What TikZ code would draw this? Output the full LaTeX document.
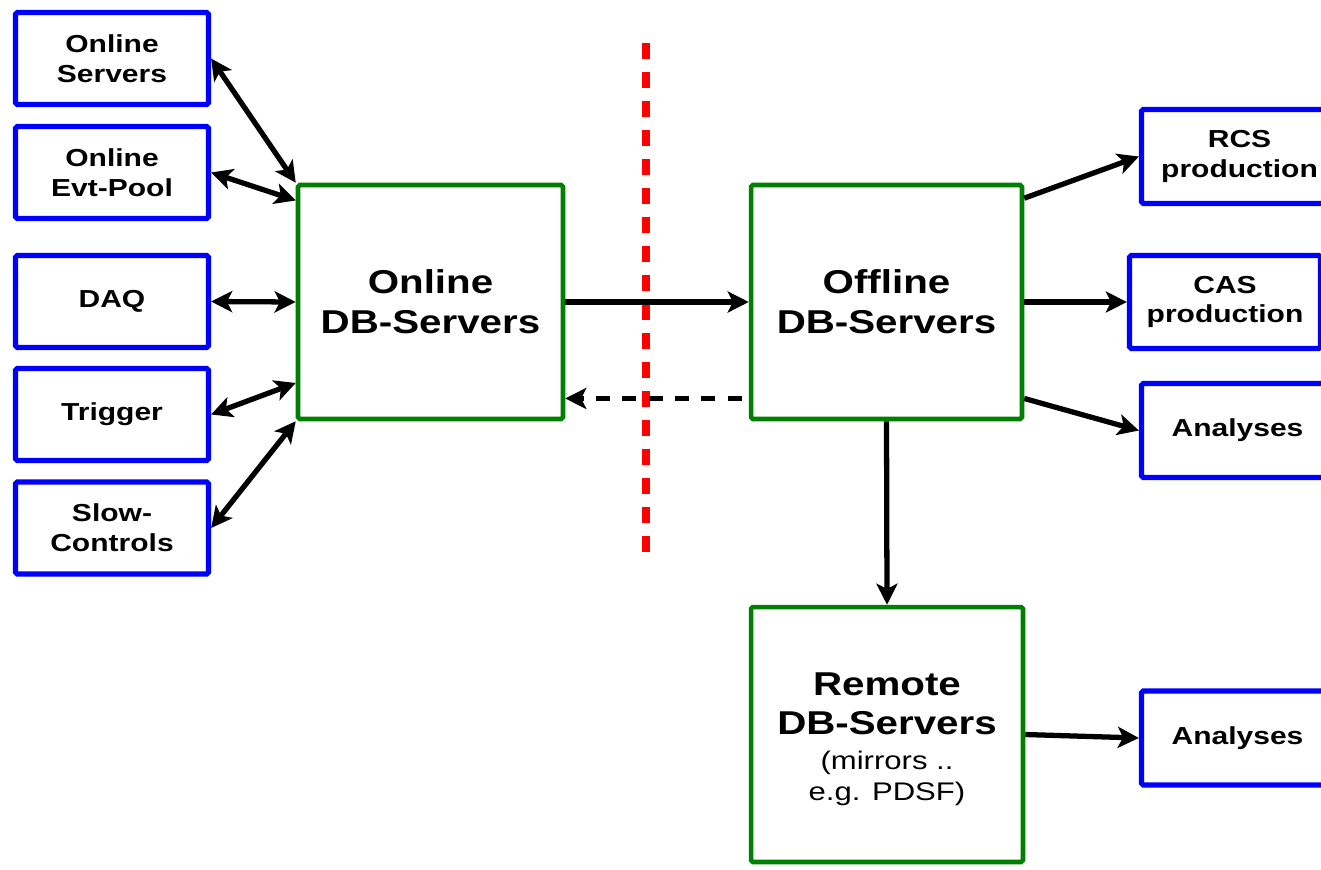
\documentclass[tikz,border=0pt]{standalone}
\usepackage{fontspec}
\setmainfont{Liberation Sans}[FakeStretch=1.22]
\usepackage{tikz}
\usetikzlibrary{positioning}
\usetikzlibrary{arrows.meta}
\usepackage{xcolor}
\definecolor{dbgreen}{RGB}{0,128,0}

\begin{document}
\begin{tikzpicture}[x=0.02cm, y=-0.02cm, >={Stealth[length=12pt,width=12pt,inset=3pt]},
    client/.style={draw=blue, line width=3pt, rounded corners=1pt, inner sep=0pt,
        minimum width=3.86cm, minimum height=1.84cm, align=center,
        font=\fontsize{14}{17}\selectfont\bfseries},
    dbserver/.style={draw=dbgreen, line width=2.6pt, rounded corners=1pt, inner sep=0pt,
        align=center, font=\fontsize{18.8}{22.7}\selectfont\bfseries},
    dbtext/.style={inner sep=0pt, align=center, font=\fontsize{18.8}{22.7}\selectfont\bfseries},
    link/.style={line width=3pt}]
    \useasboundingbox (0,0) rectangle (1321,869);
    % online side
    \node[client] (srv) at (112,58.5) {Online\\Servers};
    \node[client] (evt) at (112,172.5) {Online\\Evt-Pool};
    \node[client] (daq) at (112,301.5) {DAQ};
    \node[client] (trg) at (112,414.5) {Trigger};
    \node[client] (slow) at (112,528) {Slow-\\Controls};
    \node[dbserver, minimum width=5.3cm, minimum height=4.68cm] (ondb) at (430.5,302) {Online\\DB-Servers};
    % offline side
    \node[dbserver, minimum width=5.42cm, minimum height=4.68cm] (offdb) at (886.5,302) {Offline\\DB-Servers};
    \node[dbserver, minimum width=5.44cm, minimum height=5.1cm] (remdb) at (887,734.5) {};
    \node[dbtext] (remtxt) at ([yshift=-0.1cm]remdb.center)
        {Remote\\[-1pt]DB-Servers\\[-2.5pt]{\fontsize{14.5}{17.6}\selectfont\mdseries (mirrors ..}\\[-5pt]{\fontsize{14.5}{17.6}\selectfont\mdseries e.g. PDSF)}};
    \node[client, minimum width=3.92cm, minimum height=1.88cm] (rcs) at (1239.5,156.5) {RCS\\production};
    \node[client, minimum width=3.82cm, minimum height=1.86cm] (cas) at (1225,302) {CAS\\production};
    \node[client, minimum width=3.84cm, minimum height=1.88cm] (ana) at (1237.5,430.5) {Analyses};
    \node[client, minimum width=3.84cm, minimum height=1.88cm] (remana) at (1237.5,738) {Analyses};
    % border between online and offline
    \draw[red, line width=4pt, dash pattern=on 9pt off 7.5pt] (646,43) -- (646,555);
    % links
    \draw[link,<->] (srv.east) -- (ondb.north west);
    \draw[link,<->] (evt.east) -- (ondb.143.2);
    \draw[link,<->] (daq.east) -- (ondb.west);
    \draw[link,<->] (trg.east) -- (ondb.211.4);
    \draw[link,<->] (slow.east) -- (ondb.south west);
    \draw[link,->] (ondb.east) -- (offdb.west);
    \draw[link,->,dash pattern=on 8pt off 7pt] ([xshift=-0.14cm]offdb.215.3) -- (ondb.east |- offdb.215.3);
    \draw[link,->] (offdb.37.5) -- (rcs.west);
    \draw[link,->] (offdb.east) -- (cas.west);
    \draw[link,->] (offdb.-35.9) -- (ana.west);
    \draw[link,->] (offdb.south) -- (remdb.north);
    \draw[link,->] (remdb.east) -- (remana.west);
\end{tikzpicture}
\end{document}
